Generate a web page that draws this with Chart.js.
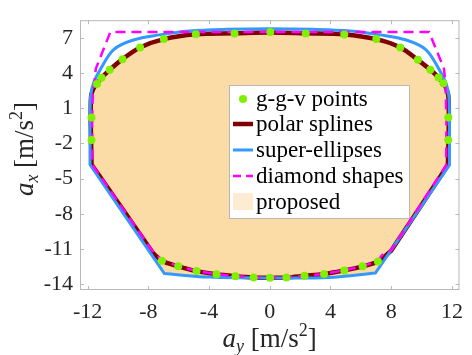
<!DOCTYPE html>
<html>
<head>
<meta charset="utf-8">
<script src="https://cdn.jsdelivr.net/npm/chart.js@4.4.1/dist/chart.umd.min.js"></script>
<style>
  html, body { margin: 0; padding: 0; background: #fff; }
  #wrap { width: 472px; height: 355px; }
</style>
</head>
<body>
<div id="wrap"><canvas id="ggChart" width="472" height="355"></canvas></div>
<script>
// --- data (a_y, a_x in m/s^2) ---
// corner points are listed twice so the smoothed lines keep sharp corners there
const ggvX = [-11.74, -11.74, -11.38, -11.08, -10.54, -9.70, -8.54, -6.98, -4.87, -2.32, 0.04, 2.37, 4.91, 7.02, 8.60, 9.76, 10.58, 11.12, 11.44, 11.76, 11.76,
              -7.11, -6.03, -4.82, -3.51, -2.26, -1.06, 0.02, 1.10, 2.29, 3.58, 4.91, 6.12, 7.13];
const ggvY = [0.21, -1.72, 3.07, 3.60, 4.27, 5.18, 6.18, 6.89, 7.30, 7.36, 7.49, 7.36, 7.29, 6.89, 6.18, 5.12, 4.27, 3.62, 3.13, 0.21, -1.72,
              -12.01, -12.48, -12.89, -13.16, -13.32, -13.43, -13.46, -13.43, -13.29, -13.13, -12.83, -12.48, -12.07];

const splineX = [-11.80, -11.76, -11.60, -11.38, -11.08, -10.54, -9.70, -8.54, -6.98, -4.87, -2.32, 0, 2.37, 4.91, 7.02, 8.60, 9.76, 10.58, 11.12, 11.44, 11.62, 11.76, 11.80, 11.74, 11.74,
                 8.00, 8.00, 7.13, 6.12, 4.91, 3.58, 2.29, 1.10, 0, -1.06, -2.26, -3.51, -4.82, -6.03, -7.11, -7.70, -7.70, -11.74, -11.74, -11.80];
const splineY = [0.20, 2.10, 2.70, 3.07, 3.60, 4.27, 5.18, 6.18, 6.89, 7.30, 7.38, 7.45, 7.38, 7.29, 6.89, 6.18, 5.12, 4.27, 3.62, 3.13, 2.70, 2.10, 0.20, -3.85, -3.85,
                 -11.15, -11.15, -12.07, -12.48, -12.83, -13.13, -13.29, -13.43, -13.46, -13.43, -13.32, -13.16, -12.89, -12.48, -12.01, -11.33, -11.33, -3.80, -3.80, 0.20];

const superX = [-11.84, -11.80, -11.62, -11.14, -10.28, -8.99, -7.26, -5.30, -2.80, 0, 2.80, 5.30, 7.26, 8.99, 10.28, 11.14, 11.62, 11.80, 11.84, 11.84, 11.84,
                6.96, 6.96, 3.90, 0, -1.44, -4.00, -6.94, -6.94, -11.84, -11.84, -11.84];
const superY = [0, 2.00, 3.10, 4.35, 6.00, 6.81, 7.25, 7.58, 7.72, 7.77, 7.72, 7.58, 7.25, 6.81, 6.00, 4.35, 3.10, 2.00, 0, -3.85, -3.85,
                -13.05, -13.05, -13.43, -13.48, -13.46, -13.40, -13.10, -13.10, -3.80, -3.80, 0];

const diamondX = [-11.70, -11.65, -11.57, -11.46, -10.50, 10.50, 11.48, 11.58, 11.64, 11.62, 8.00, 7.48, 7.10, 6.10, 4.90, 3.60, 2.30, 0,
                  -2.30, -3.50, -4.80, -6.00, -7.15, -7.80, -11.70, -11.70];
const diamondY = [0, 2.50, 2.99, 4.36, 7.49, 7.49, 4.36, 2.99, 0, -3.85, -11.10, -11.40, -12.05, -12.47, -12.83, -13.12, -13.30, -13.45,
                  -13.32, -13.15, -12.88, -12.50, -11.87, -11.05, -3.80, 0];

const proposedX = [-11.72, -11.70, -11.55, -11.30, -11.00, -10.45, -9.60, -8.45, -6.90, -4.85, -2.30, 0, 2.30, 4.85, 6.90, 8.45, 9.60, 10.45, 11.00, 11.30, 11.55, 11.70, 11.72, 11.72, 11.72,
                   7.95, 7.95, 7.00, 7.00, 4.00, 0, -4.00, -7.00, -7.00, -7.65, -7.65, -11.72, -11.72, -11.72];
const proposedY = [0, 2.20, 2.80, 3.20, 3.70, 4.30, 5.15, 6.10, 6.80, 7.20, 7.30, 7.38, 7.30, 7.20, 6.80, 6.10, 5.15, 4.30, 3.70, 3.20, 2.80, 2.20, 0, -3.80, -3.80,
                   -11.10, -11.10, -13.00, -13.00, -13.35, -13.40, -13.35, -13.00, -13.00, -11.30, -11.30, -3.80, -3.80, 0];

const xTicks = [-12, -8, -4, 0, 4, 8, 12];
const yTicks = [-14, -11, -8, -5, -2, 1, 4, 7];
const seriesNames = ['g-g-v points', 'polar splines', 'super-ellipses', 'diamond shapes', 'proposed'];

const COLORS = {
    ggv: '#7FF000',
    spline: '#800000',
    superE: '#3399FF',
    diamond: '#FF00FF',
    fill: '#FCDCA6',
    fillLegend: '#FDEBD2',
    frame: '#B8B8B8',
    text: '#262626',
};
const SERIF = "'Liberation Serif', 'DejaVu Serif', serif";

function pts(xs, ys) {
    return xs.map((x, i) => ({ x: x, y: ys[i] }));
}

// box + inward ticks, MATLAB style
const framePlugin = {
    id: 'frame',
    afterDraw(c) {
        const { ctx, chartArea: a, scales } = c;
        ctx.save();
        ctx.strokeStyle = COLORS.frame;
        ctx.lineWidth = 1;
        ctx.strokeRect(a.left + 0.5, a.top + 0.5, a.right - a.left - 1, a.bottom - a.top - 1);
        ctx.beginPath();
        for (const v of xTicks) {
            const px = Math.round(scales.x.getPixelForValue(v)) + 0.5;
            ctx.moveTo(px, a.bottom); ctx.lineTo(px, a.bottom - 4);
            ctx.moveTo(px, a.top); ctx.lineTo(px, a.top + 4);
        }
        for (const v of yTicks) {
            const py = Math.round(scales.y.getPixelForValue(v)) + 0.5;
            ctx.moveTo(a.left, py); ctx.lineTo(a.left + 4, py);
            ctx.moveTo(a.right, py); ctx.lineTo(a.right - 4, py);
        }
        ctx.stroke();
        ctx.restore();
    }
};

// legend box inside the axes
const legendPlugin = {
    id: 'innerLegend',
    afterDatasetsDraw(c) {
        const ctx = c.ctx;
        const box = { x: 229.5, y: 85.5, w: 180, h: 133 };
        const rows = [99, 124, 150, 176, 202];
        const x0 = 233, x1 = 253, tx = 256;
        ctx.save();
        ctx.fillStyle = '#fff';
        ctx.fillRect(box.x, box.y, box.w, box.h);
        ctx.strokeStyle = COLORS.frame;
        ctx.lineWidth = 1;
        ctx.strokeRect(box.x, box.y, box.w, box.h);

        // g-g-v dot
        ctx.fillStyle = COLORS.ggv;
        ctx.beginPath();
        ctx.arc((x0 + x1) / 2, rows[0], 4, 0, Math.PI * 2);
        ctx.fill();
        // line samples
        const sample = (y, color, width, dash) => {
            ctx.strokeStyle = color;
            ctx.lineWidth = width;
            ctx.setLineDash(dash);
            ctx.beginPath();
            ctx.moveTo(x0, y); ctx.lineTo(x1, y);
            ctx.stroke();
            ctx.setLineDash([]);
        };
        sample(rows[1], COLORS.spline, 4.5, []);
        sample(rows[2], COLORS.superE, 3, []);
        sample(rows[3], COLORS.diamond, 2.5, [8, 5]);
        ctx.fillStyle = COLORS.fillLegend;
        ctx.fillRect(x0, rows[4] - 9, x1 - x0, 17);

        ctx.fillStyle = '#000';
        ctx.font = '23px ' + SERIF;
        ctx.textBaseline = 'middle';
        ctx.textAlign = 'left';
        seriesNames.forEach((name, i) => ctx.fillText(name, tx, rows[i] + 1));
        ctx.restore();
    }
};

// axis titles with sub/superscripts
function drawTitle(ctx, sub) {
    const big = '27px ' + SERIF, small = '18px ' + SERIF;
    const parts = [
        { t: 'a', f: 'italic ' + big, dy: 0 },
        { t: sub, f: 'italic ' + small, dy: 5 },
        { t: ' [m/s', f: big, dy: 0 },
        { t: '2', f: small, dy: -11 },
        { t: ']', f: big, dy: 0 },
    ];
    let w = 0;
    for (const p of parts) { ctx.font = p.f; p.w = ctx.measureText(p.t).width; w += p.w; }
    let x = -w / 2;
    ctx.textBaseline = 'alphabetic';
    ctx.textAlign = 'left';
    for (const p of parts) { ctx.font = p.f; ctx.fillText(p.t, x, p.dy); x += p.w; }
}

const titlePlugin = {
    id: 'axisTitles',
    afterDraw(c) {
        const { ctx, chartArea: a } = c;
        ctx.save();
        ctx.fillStyle = COLORS.text;
        ctx.translate((a.left + a.right) / 2, 347);
        drawTitle(ctx, 'y');
        ctx.restore();
        ctx.save();
        ctx.fillStyle = COLORS.text;
        ctx.translate(33, 149);
        ctx.rotate(-Math.PI / 2);
        drawTitle(ctx, 'x');
        ctx.restore();
    }
};

const tickFont = { family: SERIF, size: 22 };

new Chart(document.getElementById('ggChart').getContext('2d'), {
    type: 'scatter',
    data: {
        datasets: [
            {
                label: seriesNames[0], data: pts(ggvX, ggvY), showLine: false,
                pointRadius: 4, pointBackgroundColor: COLORS.ggv, pointBorderWidth: 0, order: 0
            },
            {
                label: seriesNames[1], data: pts(splineX, splineY), showLine: true,
                borderColor: COLORS.spline, borderWidth: 4.5, pointRadius: 0, tension: 0.35, order: 3
            },
            {
                label: seriesNames[2], data: pts(superX, superY), showLine: true,
                borderColor: COLORS.superE, borderWidth: 3, pointRadius: 0, tension: 0.35, order: 2
            },
            {
                label: seriesNames[3], data: pts(diamondX, diamondY), showLine: true,
                borderColor: COLORS.diamond, borderWidth: 2.5, borderDash: [10, 6], pointRadius: 0, tension: 0, order: 1
            },
            {
                label: seriesNames[4], data: pts(proposedX, proposedY), showLine: true,
                borderColor: 'transparent', backgroundColor: COLORS.fill, fill: 'shape',
                pointRadius: 0, tension: 0.35, order: 4
            },
        ]
    },
    options: {
        responsive: false,
        animation: false,
        events: [],
        layout: { padding: { left: 0, right: 6, top: 9, bottom: 0 } },
        plugins: { legend: { display: false }, tooltip: { enabled: false } },
        scales: {
            x: {
                type: 'linear', min: -12.5, max: 12.5,
                afterBuildTicks: s => { s.ticks = xTicks.map(v => ({ value: v })); },
                afterFit: s => { s.height = 65; },
                grid: { display: false, drawTicks: false },
                border: { display: false },
                ticks: { font: tickFont, color: COLORS.text, padding: 9, maxRotation: 0, autoSkip: false }
            },
            y: {
                type: 'linear', min: -14.5, max: 8.5,
                afterBuildTicks: s => { s.ticks = yTicks.map(v => ({ value: v })); },
                afterFit: s => { s.width = 80; },
                grid: { display: false, drawTicks: false },
                border: { display: false },
                ticks: { font: tickFont, color: COLORS.text, padding: 7, autoSkip: false }
            }
        }
    },
    plugins: [framePlugin, legendPlugin, titlePlugin]
});
</script>
</body>
</html>
